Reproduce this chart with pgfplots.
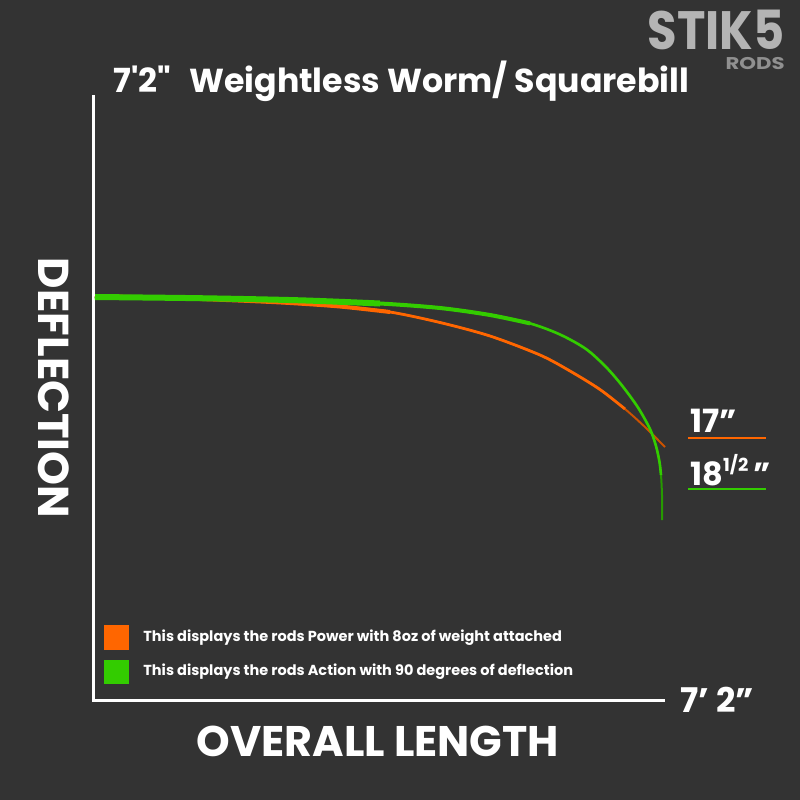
\documentclass[border=0pt]{standalone}
\usepackage{graphicx}
\usepackage{pgfplots}
\pgfplotsset{compat=1.18}
\usepackage{fontspec}
\setmainfont{Poppins}[Ligatures=TeXOff]
\definecolor{bg}{HTML}{333333}
\definecolor{rodorange}{HTML}{FF6600}
\definecolor{rodgreen}{HTML}{33CC00}
\definecolor{logogray}{HTML}{B4B4B4}

\begin{document}
\begin{tikzpicture}
\begin{axis}[
    x=0.5pt, y=0.5pt, y dir=reverse,
    xmin=0, xmax=800, ymin=0, ymax=800,
    axis lines=none, ticks=none,
    clip=false,
]
\fill[bg] (axis cs:0,0) rectangle (axis cs:800,800);

% axes frame
\draw[white, line width=1.5pt] (axis cs:93,95) -- (axis cs:93,700) -- (axis cs:665,700);

% power curve (orange): full length thin, thicker near the butt
\addplot[rodorange!80!black, line width=1pt, smooth] coordinates {
    (95,296) (150,297.5) (200,299) (250,301) (290,303) (340,306.5) (390,312)
    (440,322.5) (490,336) (540,355) (570,371) (600,389.5) (625,409) (645,427) (665,447)
};
\addplot[rodorange, line width=1.4pt, smooth] coordinates {
    (95,296) (150,297.5) (200,299) (250,301) (290,303) (340,306.5) (390,312)
    (440,322.5) (490,336) (540,355) (570,371) (600,389.5) (625,409)
};
\addplot[rodorange, line width=2pt, smooth] coordinates {
    (95,296) (150,297.5) (200,299) (250,301) (290,303) (340,306.5) (390,312)
};

% action curve (green)
\addplot[rodgreen!75!black, line width=1pt, smooth] coordinates {
    (95,297) (200,298.2) (300,300.3) (380,303.5) (440,308) (490,315)
    (530,323.4) (560,334.5) (586,349) (606,367) (622,385.5) (638,407.5)
    (650,429) (656,446) (659.5,462) (661,475) (662,495) (662,520)
};
\addplot[rodgreen, line width=1.3pt, smooth] coordinates {
    (95,297) (200,298.2) (300,300.3) (380,303.5) (440,308) (490,315)
    (530,323.4) (560,334.5) (586,349) (606,367) (622,385.5) (638,407.5)
    (650,429) (656,446) (659.5,462) (661,475)
};
\addplot[rodgreen, line width=2pt, smooth] coordinates {
    (95,297) (200,298.2) (300,300.3) (380,303.5) (440,308) (490,315) (530,323.4)
};
\addplot[rodgreen, line width=3pt, smooth] coordinates {
    (95,297) (200,298.2) (300,300.3) (380,303.5)
};

% titles and labels
\node[anchor=base west, inner sep=0, text=white, font=\bfseries\fontsize{16.6}{18}\selectfont]
    at (axis cs:113,92) {7'2"\hspace{0.55em}Weightless Worm/ Squarebill};
\node[anchor=center, inner sep=0, rotate=-90, text=white, font=\bfseries\fontsize{21.6}{24}\selectfont]
    at (axis cs:54,388) {DEFLECTION};
\node[anchor=base, inner sep=0, text=white, font=\bfseries\fontsize{21.4}{24}\selectfont]
    at (axis cs:378,756) {OVERALL LENGTH};
\node[anchor=base west, inner sep=0, text=white, font=\bfseries\fontsize{17}{20}\selectfont]
    at (axis cs:680,712) {7’ 2”};

% tip measurements
\node[anchor=base west, inner sep=0, text=white, font=\bfseries\fontsize{16}{18}\selectfont]
    at (axis cs:690,432) {17”};
\draw[rodorange, line width=0.6pt] (axis cs:688,438) -- (axis cs:766,438);
\node[anchor=base west, inner sep=0, text=white, font=\bfseries\fontsize{16}{18}\selectfont]
    at (axis cs:690,485) {18\raisebox{0.42em}{\fontsize{9}{9}\selectfont 1/2}\,”};
\draw[rodgreen, line width=0.6pt] (axis cs:688,489) -- (axis cs:766,489);

% key
\fill[rodorange] (axis cs:104,625) rectangle (axis cs:129,650);
\fill[rodgreen] (axis cs:104,660) rectangle (axis cs:129,684);
\node[anchor=base west, inner sep=0, text=white, font=\bfseries\fontsize{7.25}{9}\selectfont]
    at (axis cs:143,641) {This displays the rods Power with 8oz of weight attached};
\node[anchor=base west, inner sep=0, text=white, font=\bfseries\fontsize{7.25}{9}\selectfont]
    at (axis cs:143,675) {This displays the rods Action with 90 degrees of deflection};

% logo
\node[anchor=north east, inner sep=0, align=right, text=logogray, font=\bfseries\fontsize{8.5}{9.6}\selectfont]
    at (axis cs:785,10) {\scalebox{0.89}[1]{\fontsize{27}{27}\selectfont STIK5}\\
    \scalebox{1.25}[1]{\color{logogray!80!black}RODS}};
\end{axis}
\end{tikzpicture}
\end{document}
